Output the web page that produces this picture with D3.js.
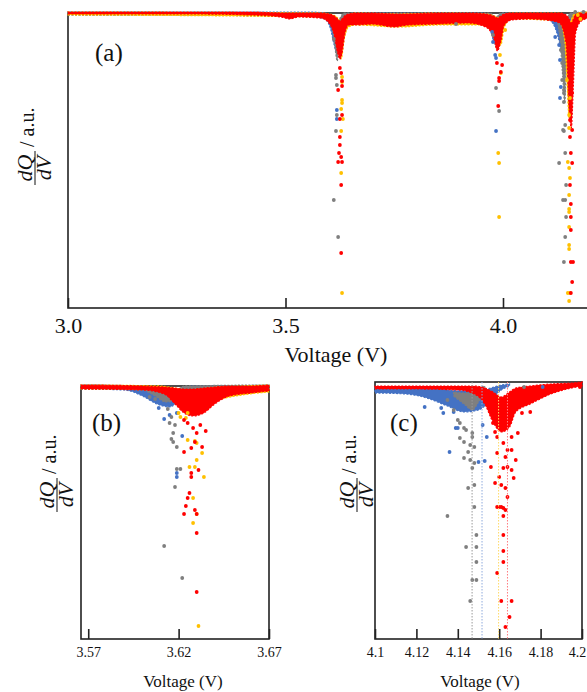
<!DOCTYPE html>
<html lang="en">
<head>
<meta charset="UTF-8">
<title>dQ/dV vs Voltage</title>
<script src="https://d3js.org/d3.v7.min.js"></script>
<style>
  body { margin: 0; background: #fff; overflow: hidden; }
  svg { display: block; font-family: 'Liberation Serif', 'Times New Roman', serif; }
</style>
</head>
<body>
<div id="chart"></div>
<script>
// ---- data (voltage V, dQ/dV in a.u.; bands are [V, upper, lower] of the dense cloud) ----
const seriesKeys = ["blue", "grey", "yellow", "red"];

// panel (a): 3.0 - 4.2 V
const aTicks = [3.0, 3.5, 4.0];
const aBandBlue = [[3.00,1,-2],[3.55,1,-3],[3.59,0,-6],[3.603,-2,-15],[3.612,-5,-32],[3.618,-10,-40],[3.622,-10,-25],[3.63,-4,-10],[3.66,0,-4],[3.95,0,-4],[3.97,-2,-12],[3.978,-6,-28],[3.985,-8,-32],[3.99,-4,-15],[4.00,0,-5],[4.10,0,-6],[4.11,-1,-8],[4.12,-2,-15],[4.13,-4,-30],[4.135,-8,-40],[4.14,-10,-36],[4.148,-5,-15],[4.16,0,-5],[4.20,1,-2]];
const aBandGrey = [[3.00,1,-2],[3.58,0,-3],[3.605,-2,-10],[3.613,-6,-32],[3.619,-10,-48],[3.624,-6,-22],[3.635,0,-5],[3.97,0,-4],[3.984,-4,-20],[3.995,0,-5],[4.12,0,-5],[4.13,-3,-22],[4.137,-10,-62],[4.142,-15,-90],[4.146,-8,-40],[4.155,0,-5],[4.20,1,-2]];
const aBandYellow = [[3.00,1,-2],[3.58,0,-4],[3.61,-2,-14],[3.622,-6,-36],[3.628,-10,-46],[3.635,-6,-26],[3.645,-2,-14],[3.66,0,-12],[3.76,-1,-14],[3.85,0,-12],[3.96,-1,-12],[3.985,-4,-28],[3.995,-6,-32],[4.003,-2,-14],[4.02,0,-6],[4.13,0,-8],[4.142,-3,-28],[4.148,-8,-78],[4.152,-12,-105],[4.156,-8,-60],[4.162,-2,-15],[4.17,0,-5],[4.20,1,-2]];
const aBandRed = [[3.00,1,-1],[3.30,1,-1],[3.42,1,-2],[3.49,0,-4],[3.51,0,-6],[3.53,0,-4],[3.58,0,-5],[3.60,-1,-10],[3.612,-3,-22],[3.62,-6,-40],[3.625,-8,-46],[3.63,-6,-40],[3.636,-3,-22],[3.645,-1,-12],[3.66,0,-12],[3.70,0,-11],[3.75,-1,-14],[3.78,-1,-12],[3.85,0,-11],[3.92,0,-10],[3.96,-1,-14],[3.978,-3,-24],[3.987,-5,-38],[3.995,-3,-28],[4.003,-1,-12],[4.02,0,-7],[4.06,0,-6],[4.10,0,-7],[4.13,0,-10],[4.145,-2,-30],[4.152,-6,-95],[4.157,-10,-115],[4.162,-6,-70],[4.167,-1,-20],[4.18,0,-8],[4.20,0,-5]];
const aDotsBlue = [[3.618,-97],[3.618,-106],[3.975,-19],[3.977,-29],[3.982,-42],[3.984,-45],[3.984,-118],[4.120,-24],[4.129,-32],[4.131,-47],[4.133,-74],[4.131,-85]];
const aDotsGrey = [[3.611,-26],[3.616,-62],[3.616,-65],[3.618,-72],[3.618,-102],[3.616,-118],[3.611,-187],[3.621,-224],[3.892,-11],[3.977,-22],[3.984,-75],[3.991,-98],[4.133,-37],[4.136,-50],[4.140,-60],[4.136,-67],[4.140,-77],[4.140,-80],[4.140,-89],[4.143,-112],[4.138,-117],[4.140,-118],[4.143,-140],[4.129,-150],[4.145,-172],[4.138,-187],[4.143,-187],[4.145,-204],[4.143,-224],[4.140,-249],[4.166,1],[4.185,1]];
const aDotsYellow = [[3.630,-64],[3.630,-69],[3.630,-87],[3.630,-90],[3.628,-96],[3.632,-106],[3.628,-118],[3.628,-160],[3.630,-280],[3.993,-42],[4.005,-17],[3.995,-60],[3.989,-140],[3.991,-150],[3.991,-204],[4.147,-67],[4.154,-85],[4.152,-102],[4.152,-115],[4.149,-149],[4.152,-155],[4.154,-165],[4.152,-182],[4.152,-196],[4.152,-199],[4.152,-214],[4.152,-232],[4.152,-236],[4.149,-280],[4.154,-280],[4.152,-288],[4.172,-2],[4.178,-6]];
const aDotsRed = [[3.625,-55],[3.628,-60],[3.630,-68],[3.630,-73],[3.621,-77],[3.625,-106],[3.630,-102],[3.625,-124],[3.625,-132],[3.623,-140],[3.628,-144],[3.621,-149],[3.630,-149],[3.628,-172],[3.628,-240],[3.986,-50],[3.998,-52],[3.995,-59],[3.991,-65],[3.991,-68],[3.989,-93],[4.154,-64],[4.159,-80],[4.156,-94],[4.154,-107],[4.159,-117],[4.154,-124],[4.156,-140],[4.159,-150],[4.154,-172],[4.156,-191],[4.156,-204],[4.156,-217],[4.156,-249],[4.161,-249],[4.159,-269],[4.156,-280]];

// panel (b): zoom on the 3.62 V peak
const bTicks = [3.57, 3.62, 3.67];
const bBandBlue = [[3.566,1,-3],[3.59,0,-4],[3.60,-1,-10],[3.608,-2,-18],[3.615,-3,-21],[3.62,-3,-15],[3.628,0,-6],[3.64,0,-4],[3.67,1,-3]];
const bBandGrey = [[3.566,1,-2],[3.60,0,-4],[3.607,-3,-10],[3.613,-5,-16],[3.618,-5,-14],[3.623,0,-5],[3.67,1,-2]];
const bBandYellow = [[3.566,1,-3],[3.61,0,-4],[3.618,-2,-14],[3.625,-4,-24],[3.632,-3,-22],[3.642,-1,-14],[3.655,0,-9],[3.67,1,-6]];
const bBandRed = [[3.566,1,-3],[3.60,0,-4],[3.612,-1,-8],[3.618,-2,-18],[3.623,-3,-27],[3.628,-3,-30],[3.634,-2,-27],[3.64,-1,-18],[3.648,0,-10],[3.66,0,-7],[3.67,1,-5]];
const bDotsBlue = [[3.609,-22],[3.615,-29],[3.612,-33],[3.619,-27],[3.622,-50],[3.619,-87],[3.619,-91]];
const bDotsGrey = [[3.604,-11],[3.607,-13],[3.610,-11],[3.614,-23],[3.616,-31],[3.615,-37],[3.618,-39],[3.617,-47],[3.616,-53],[3.617,-56],[3.619,-61],[3.619,-83],[3.621,-83],[3.618,-101],[3.612,-160],[3.622,-192]];
const bDotsYellow = [[3.620,-27],[3.621,-31],[3.624,-32],[3.625,-27],[3.625,-54],[3.629,-55],[3.630,-57],[3.633,-67],[3.630,-74],[3.626,-81],[3.629,-81],[3.634,-91],[3.628,-112],[3.630,-128],[3.628,-137],[3.631,-240]];
const bDotsRed = [[3.623,-34],[3.625,-37],[3.628,-42],[3.632,-39],[3.635,-45],[3.630,-47],[3.629,-56],[3.627,-62],[3.623,-66],[3.633,-61],[3.627,-87],[3.627,-91],[3.631,-84],[3.626,-107],[3.625,-112],[3.624,-120],[3.629,-124],[3.623,-128],[3.630,-128],[3.630,-147],[3.630,-206]];

// panel (c): zoom on the 4.15 V peak, with peak positions
const cTicks = [4.1, 4.12, 4.14, 4.16, 4.18, 4.2];
const cPeaks = [4.1469, 4.1517, 4.1597, 4.164]; // grey, blue, yellow, red
const cBandBlue = [[4.100,-5,-11],[4.115,-5,-12],[4.125,-6,-16],[4.135,-8,-24],[4.143,-9,-30],[4.150,-9,-28],[4.156,-6,-18],[4.161,-3,-8],[4.165,-2,-4]];
const cBandGrey = [[4.138,-10,-14],[4.143,-11,-22],[4.147,-10,-28],[4.150,-6,-20],[4.153,-4,-8]];
const cBandYellow = [];
const cBandRed = [[4.100,-4,-7],[4.120,-4,-7],[4.140,-4,-8],[4.148,-4,-12],[4.153,-6,-22],[4.157,-10,-40],[4.161,-15,-50],[4.165,-10,-45],[4.168,-6,-30],[4.175,-4,-22],[4.185,-2,-12],[4.195,-1,-6],[4.200,0,-4]];
const cDotsBlue = [[4.124,-25],[4.132,-26],[4.133,-31],[4.138,-30],[4.139,-46],[4.140,-46],[4.136,-70],[4.150,-80],[4.153,-79],[4.154,-55],[4.152,-43],[4.181,-5]];
const cDotsGrey = [[4.135,-18],[4.138,-28],[4.140,-38],[4.141,-41],[4.143,-46],[4.144,-48],[4.147,-51],[4.147,-55],[4.141,-56],[4.143,-60],[4.146,-63],[4.148,-65],[4.145,-70],[4.143,-76],[4.146,-78],[4.148,-81],[4.147,-86],[4.148,-103],[4.145,-106],[4.148,-125],[4.135,-134],[4.149,-153],[4.144,-165],[4.149,-165],[4.149,-180],[4.147,-198],[4.149,-198],[4.146,-219],[4.172,-5]];
const cDotsYellow = [];
const cDotsRed = [[4.157,-41],[4.158,-50],[4.159,-55],[4.162,-61],[4.164,-68],[4.159,-71],[4.163,-75],[4.166,-68],[4.168,-78],[4.164,-85],[4.162,-86],[4.166,-88],[4.156,-85],[4.158,-101],[4.160,-95],[4.161,-103],[4.163,-106],[4.167,-96],[4.164,-115],[4.160,-125],[4.162,-126],[4.159,-125],[4.161,-125],[4.163,-128],[4.162,-134],[4.162,-153],[4.162,-169],[4.162,-180],[4.159,-191],[4.161,-219],[4.166,-219],[4.165,-235],[4.163,-245],[4.199,-5],[4.188,-6],[4.175,-30],[4.171,-31],[4.169,-51],[4.166,-55]];

// ---- styles ----
const colors = { blue: "#4472C4", grey: "#7F7F7F", yellow: "#FFC000", red: "#FF0000" };
const peakColors = ["#9a9a9a", "#8FAADC", "#FFD966", "#FF7C80"];

const W = 587, H = 692;
const svg = d3.select("#chart").append("svg").attr("width", W).attr("height", H);

function drawPanel(p) {
    const x = d3.scaleLinear().domain(p.xDomain).range([p.left, p.right]);
    const y = d3.scaleLinear().domain(p.yDomain).range([p.bottom, p.top]);
    const g = svg.append("g");

    // frame
    g.append("rect")
        .attr("x", p.left).attr("y", p.top)
        .attr("width", p.right - p.left).attr("height", p.bottom - p.top)
        .attr("fill", "none").attr("stroke", "#222").attr("stroke-width", 1.6);

    // x axis: inward ticks
    const axis = d3.axisBottom(x)
        .tickValues(p.ticks)
        .tickFormat(p.fmt)
        .tickSizeInner(-p.tickLen)
        .tickSizeOuter(0)
        .tickPadding(p.pad);
    const ax = g.append("g").attr("transform", `translate(0,${p.bottom})`).call(axis);
    ax.select(".domain").remove();
    ax.selectAll("line").attr("stroke", "#222").attr("stroke-width", 1.6);
    ax.selectAll("text").attr("fill", "#111").style("font-size", p.tickFont + "px")
        .style("font-family", "'Liberation Serif', serif");
    if (p.lastShift) {
        // keep the last label inside the picture
        ax.selectAll(".tick").filter((d, i, n) => i === n.length - 1)
            .select("text").attr("dx", -p.lastShift);
    }

    const area = d3.area()
        .x(d => x(d[0])).y0(d => y(d[1])).y1(d => y(d[2]))
        .curve(d3.curveMonotoneX);

    // dense clouds
    seriesKeys.forEach(k => {
        const band = p.bands[k];
        if (!band.length) return;
        g.append("path").datum(band)
            .attr("d", area)
            .attr("fill", colors[k])
            .attr("stroke", colors[k])
            .attr("stroke-width", 1.2)
            .attr("stroke-dasharray", "2,1.5");
    });

    // scattered points
    seriesKeys.forEach(k => {
        g.append("g").selectAll("circle").data(p.dots[k]).join("circle")
            .attr("cx", d => x(d[0])).attr("cy", d => y(d[1]))
            .attr("r", 1.9).attr("fill", colors[k]);
    });

    // peak markers
    if (p.peaks) {
        g.append("g").selectAll("line").data(p.peaks).join("line")
            .attr("x1", d => x(d)).attr("x2", d => x(d))
            .attr("y1", p.top).attr("y2", p.bottom)
            .attr("stroke", (d, i) => peakColors[i])
            .attr("stroke-width", 1)
            .attr("stroke-dasharray", "1.5,1.5");
    }

    // panel letter
    g.append("text").attr("x", p.letterX).attr("y", p.letterY)
        .style("font-size", "25px").attr("fill", "#111").text(p.letter);

    // x label
    g.append("text").attr("x", p.xLabelX).attr("y", p.xLabelY)
        .attr("text-anchor", "middle").style("font-size", p.labelFont + "px")
        .attr("fill", "#111").text("Voltage (V)");

    // y label: dQ/dV / a.u.
    const s = p.yScale;
    const yl = svg.append("g")
        .attr("transform", `translate(${p.yLabelX},${p.yLabelY}) rotate(-90)`)
        .attr("fill", "#111");
    yl.append("line").attr("x1", -17 * s).attr("x2", 17 * s).attr("y1", 0).attr("y2", 0)
        .attr("stroke", "#111").attr("stroke-width", 1);
    yl.append("text").attr("x", 0).attr("y", -3 * s).attr("text-anchor", "middle")
        .style("font-size", 22 * s + "px").style("font-style", "italic").text("dQ");
    yl.append("text").attr("x", 0).attr("y", 16 * s).attr("text-anchor", "middle")
        .style("font-size", 22 * s + "px").style("font-style", "italic").text("dV");
    yl.append("text").attr("x", 21 * s).attr("y", -1 * s)
        .style("font-size", 20 * s + "px").text("/ a.u.");
}

drawPanel({
    left: 68, right: 590, top: 13, bottom: 308,
    xDomain: [3.0, 4.2], yDomain: [-295, 0],
    ticks: aTicks, fmt: d3.format(".1f"), tickLen: 10, pad: 9, tickFont: 22,
    bands: { blue: aBandBlue, grey: aBandGrey, yellow: aBandYellow, red: aBandRed },
    dots: { blue: aDotsBlue, grey: aDotsGrey, yellow: aDotsYellow, red: aDotsRed },
    letter: "(a)", letterX: 95, letterY: 61,
    xLabelX: 336, xLabelY: 362, labelFont: 22,
    yLabelX: 35, yLabelY: 168, yScale: 1
});

drawPanel({
    left: 81, right: 269, top: 386, bottom: 639,
    xDomain: [3.566, 3.67], yDomain: [-253, 0],
    ticks: bTicks, fmt: d3.format(".2f"), tickLen: 10, pad: 8, tickFont: 14,
    bands: { blue: bBandBlue, grey: bBandGrey, yellow: bBandYellow, red: bBandRed },
    dots: { blue: bDotsBlue, grey: bDotsGrey, yellow: bDotsYellow, red: bDotsRed },
    letter: "(b)", letterX: 92, letterY: 431,
    xLabelX: 183, xLabelY: 687, labelFont: 17,
    yLabelX: 57, yLabelY: 495, yScale: 1
});

drawPanel({
    left: 375, right: 582, top: 382, bottom: 639,
    xDomain: [4.1, 4.2], yDomain: [-257, 0],
    ticks: cTicks, fmt: d => String(d), tickLen: 10, pad: 8, tickFont: 14, lastShift: 5,
    bands: { blue: cBandBlue, grey: cBandGrey, yellow: cBandYellow, red: cBandRed },
    dots: { blue: cDotsBlue, grey: cDotsGrey, yellow: cDotsYellow, red: cDotsRed },
    peaks: cPeaks,
    letter: "(c)", letterX: 390, letterY: 431,
    xLabelX: 480, xLabelY: 687, labelFont: 17,
    yLabelX: 357, yLabelY: 495, yScale: 1
});
</script>
</body>
</html>
